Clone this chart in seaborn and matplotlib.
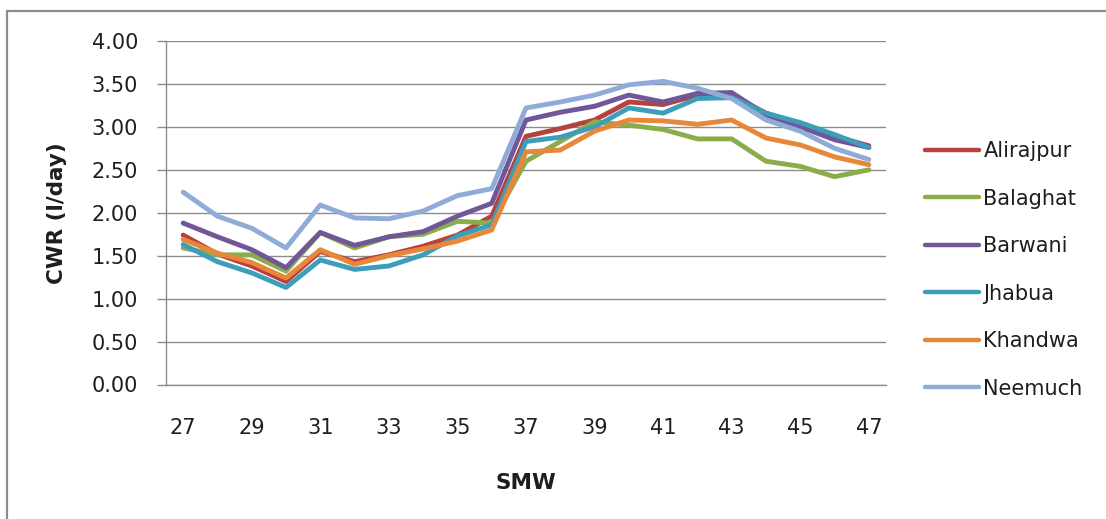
import matplotlib
matplotlib.use("Agg")
import matplotlib.pyplot as plt
from matplotlib.lines import Line2D
from matplotlib.ticker import FormatStrFormatter, MultipleLocator
import seaborn as sns
import pandas as pd

# Standard meteorological weeks
smw = list(range(27, 48))

# Crop water requirement (l/day) per district
alirajpur = [1.74, 1.52, 1.38, 1.20, 1.55, 1.43, 1.51, 1.61, 1.74, 1.96,
             2.89, 2.98, 3.08, 3.29, 3.26, 3.37, 3.37, 3.16, 3.02, 2.89, 2.78]
balaghat = [1.59, 1.51, 1.51, 1.32, 1.77, 1.59, 1.72, 1.75, 1.90, 1.88,
            2.60, 2.83, 3.06, 3.02, 2.97, 2.86, 2.86, 2.60, 2.54, 2.42, 2.50]
barwani = [1.88, 1.72, 1.57, 1.36, 1.77, 1.62, 1.72, 1.78, 1.96, 2.11,
           3.08, 3.17, 3.24, 3.37, 3.29, 3.39, 3.40, 3.14, 3.00, 2.85, 2.76]
jhabua = [1.63, 1.43, 1.30, 1.13, 1.45, 1.34, 1.38, 1.51, 1.73, 1.86,
          2.83, 2.88, 3.00, 3.22, 3.16, 3.33, 3.34, 3.16, 3.05, 2.91, 2.76]
khandwa = [1.69, 1.53, 1.42, 1.24, 1.57, 1.40, 1.50, 1.58, 1.67, 1.80,
           2.71, 2.73, 2.95, 3.08, 3.07, 3.03, 3.08, 2.87, 2.79, 2.65, 2.56]
neemuch = [2.24, 1.96, 1.82, 1.59, 2.09, 1.94, 1.93, 2.02, 2.20, 2.28,
           3.22, 3.29, 3.37, 3.49, 3.53, 3.45, 3.33, 3.08, 2.95, 2.75, 2.62]

districts = ["Alirajpur", "Balaghat", "Barwani", "Jhabua", "Khandwa", "Neemuch"]
series = [alirajpur, balaghat, barwani, jhabua, khandwa, neemuch]
colors = ["#B5423F", "#88AD4A", "#715797", "#3D9EBB", "#E7873A", "#8FABD8"]

df = pd.concat(
    [pd.DataFrame({"SMW": smw, "CWR": vals, "District": name})
     for name, vals in zip(districts, series)],
    ignore_index=True,
)

sns.set_style("white")
plt.rcParams["font.family"] = ["DejaVu Sans"]

W, H = 1106, 519
fig = plt.figure(figsize=(W / 100, H / 100), dpi=100)
ax = fig.add_axes([166 / W, 1 - 384.5 / H, (886 - 166) / W, (384.5 - 41) / H])

sns.lineplot(data=df, x="SMW", y="CWR", hue="District", hue_order=districts,
             palette=colors, linewidth=3.5, ax=ax, legend=True)

grid_col = "#8C8C8C"
ax.set_xlim(26.5, 47.5)
ax.set_ylim(0, 4)
ax.yaxis.set_major_locator(MultipleLocator(0.5))
ax.yaxis.set_major_formatter(FormatStrFormatter("%.2f"))
ax.set_xticks(smw[::2])
ax.grid(axis="y", color=grid_col, linewidth=1.0)
ax.set_axisbelow(True)
for side in ("top", "right"):
    ax.spines[side].set_visible(False)
for side in ("left", "bottom"):
    ax.spines[side].set_color(grid_col)
    ax.spines[side].set_linewidth(1.0)

ax.tick_params(axis="y", which="major", left=True, length=6.5, width=1.0,
               color=grid_col, pad=13.5, labelsize=15, labelcolor="#1E1E1E")
ax.tick_params(axis="x", which="major", bottom=False, length=0, pad=24,
               labelsize=15, labelcolor="#1E1E1E")

ax.set_xlabel("SMW", fontsize=15.5, fontweight="bold", labelpad=25,
              color="#1E1E1E")
ax.set_ylabel("CWR (l/day)", fontsize=15.5, fontweight="bold", labelpad=18,
              color="#1E1E1E")

handles, labels = ax.get_legend_handles_labels()
leg = ax.legend(handles, labels, loc="center left",
                bbox_to_anchor=(925 / W, 1 - 270 / H),
                bbox_transform=fig.transFigure, frameon=False, fontsize=15,
                handlelength=2.6, handletextpad=0.2, labelspacing=1.32,
                borderpad=0, borderaxespad=0)
for ln in leg.get_lines():
    ln.set_linewidth(3.2)
for txt in leg.get_texts():
    txt.set_color("#1E1E1E")

# chart border (left and top edges visible within the canvas)
fig.add_artist(Line2D([7 / W, 7 / W], [0, 1 - 11 / H], transform=fig.transFigure,
                      color="#8C8C8C", linewidth=1.6))
fig.add_artist(Line2D([7 / W, 1], [1 - 11 / H, 1 - 11 / H], transform=fig.transFigure,
                      color="#8C8C8C", linewidth=1.6))

fig.savefig("out.png", dpi=100)
